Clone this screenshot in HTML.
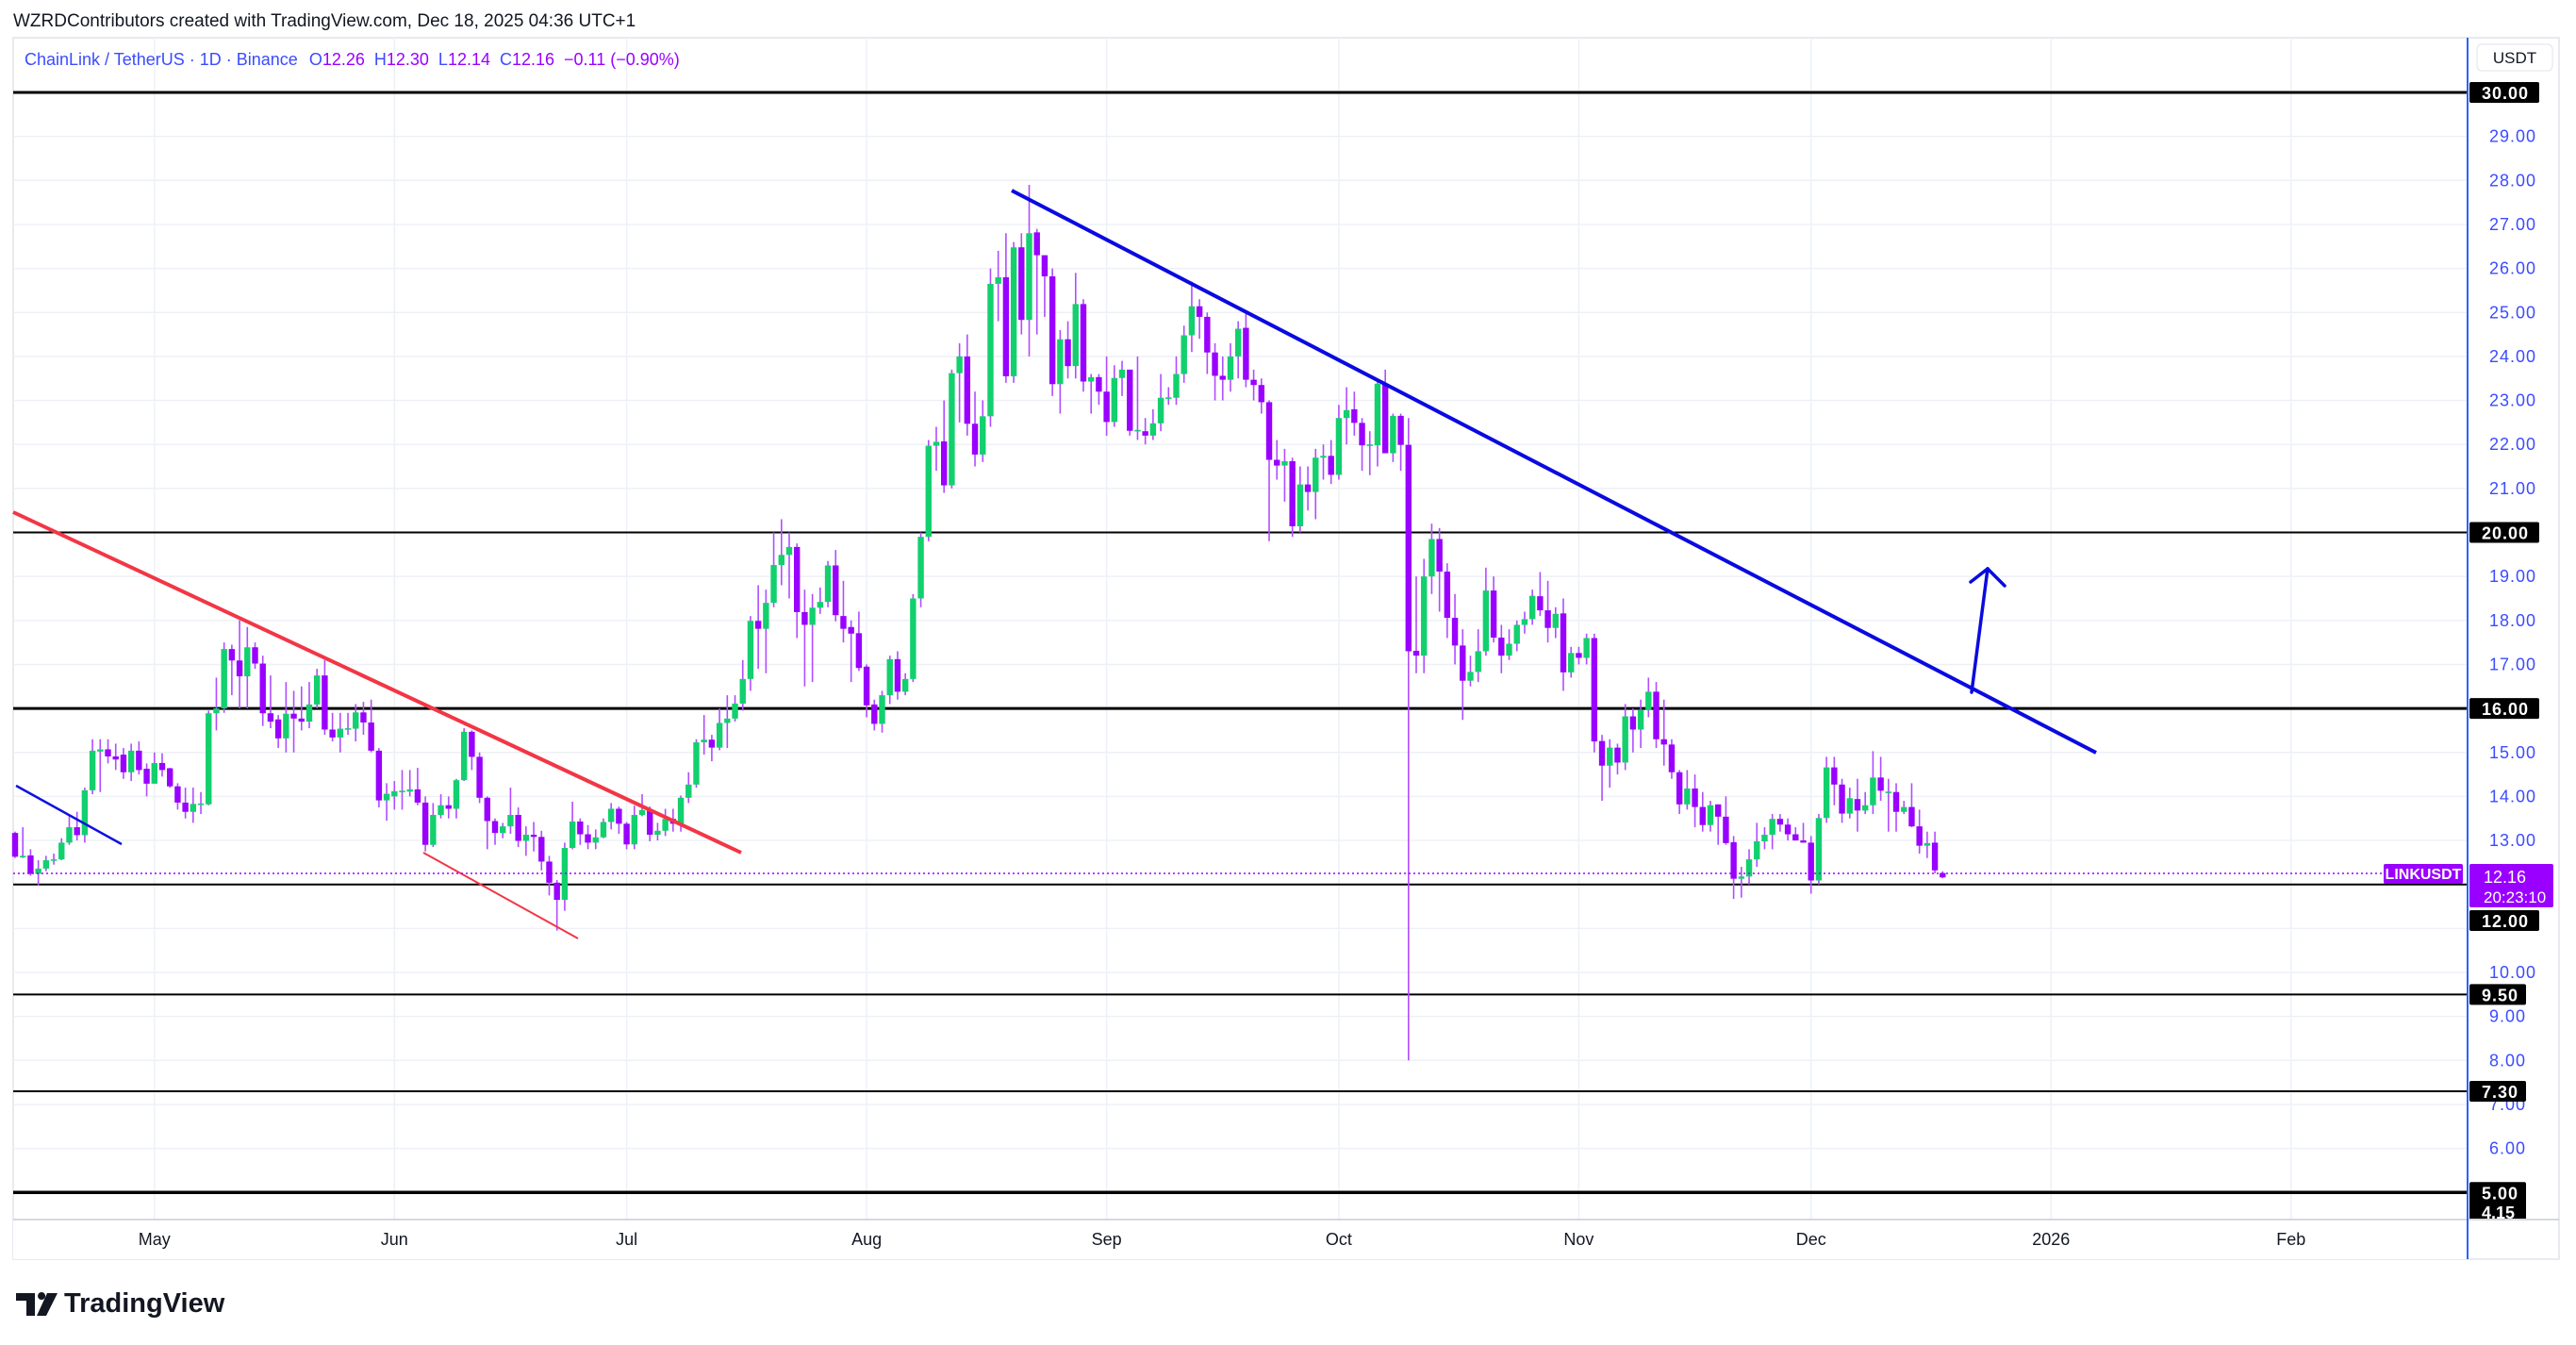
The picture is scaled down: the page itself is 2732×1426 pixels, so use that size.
<!DOCTYPE html>
<html><head><meta charset="utf-8">
<style>
html,body{margin:0;padding:0;background:#fff;}
body{width:2732px;height:1426px;overflow:hidden;font-family:"Liberation Sans",sans-serif;}
svg{display:block;}
</style></head>
<body>
<svg id="chart" width="2732" height="1426" viewBox="0 0 2732 1426" xmlns="http://www.w3.org/2000/svg">
  <text x="14" y="28" font-family="Liberation Sans, sans-serif" font-size="19" fill="#131722">WZRDContributors created with TradingView.com, Dec 18, 2025 04:36 UTC+1</text>
  <rect x="14" y="40" width="2700" height="1295" fill="#fff" stroke="#e0e3eb" stroke-width="1.5"/>
  <g id="grid"></g>
  <g id="levels"></g>
  <g id="candles"></g>
  <g id="drawings">
    <line x1="14" y1="543" x2="786" y2="904" stroke="#f23645" stroke-width="4"/>
    <line x1="449" y1="904" x2="613" y2="995" stroke="#f23645" stroke-width="2"/>
    <line x1="17" y1="833" x2="129" y2="895" stroke="#1010e0" stroke-width="2.5"/>
    <line x1="1073" y1="202" x2="2223" y2="798" stroke="#0a0ae0" stroke-width="4"/>
    <g stroke="#0a0ae0" stroke-width="3.5" fill="none" stroke-linecap="round">
      <line x1="2091" y1="734" x2="2108" y2="603"/>
      <line x1="2090" y1="617" x2="2108" y2="603"/>
      <line x1="2126" y1="621" x2="2108" y2="603"/>
    </g>
  </g>
  <line x1="14" y1="926" x2="2528" y2="926" stroke="#9900ff" stroke-width="1.5" stroke-dasharray="2,3"/>
  <rect x="14" y="1293" width="2603" height="42" fill="#fff"/>
  <line x1="14" y1="1293" x2="2714" y2="1293" stroke="#c8ccd4" stroke-width="1.5"/>
  <line x1="2617" y1="40" x2="2617" y2="1335" stroke="#2962ff" stroke-width="2"/>
  <rect x="2618" y="41" width="95" height="1251" fill="#fff"/>
  <g id="axis"></g>
  <g id="taxis"></g>
  <rect x="2627" y="47" width="80" height="28" rx="5" fill="#fff" stroke="#e0e3eb"/>
  <text x="2667" y="67" text-anchor="middle" font-size="17" fill="#131722">USDT</text>
  <rect x="2528" y="916" width="84" height="21" rx="2" fill="#9900ff"/>
  <text x="2570" y="932" text-anchor="middle" font-size="16" font-weight="bold" fill="#fff">LINKUSDT</text>
  <rect x="2619" y="916" width="89" height="46" rx="2" fill="#9900ff"/>
  <text x="2634" y="936" font-size="18" fill="#fff">12.16</text>
  <text x="2634" y="957" font-size="17" fill="#fff">20:23:10</text>
  <text x="26" y="69" font-size="18" fill="#3c4cff">ChainLink / TetherUS · 1D · Binance<tspan dx="12" fill="#3c4cff">O</tspan><tspan fill="#9900ff">12.26</tspan><tspan dx="10" fill="#3c4cff">H</tspan><tspan fill="#9900ff">12.30</tspan><tspan dx="10" fill="#3c4cff">L</tspan><tspan fill="#9900ff">12.14</tspan><tspan dx="10" fill="#3c4cff">C</tspan><tspan fill="#9900ff">12.16</tspan><tspan dx="10" fill="#9900ff">−0.11 (−0.90%)</tspan></text>
  <g>
    <path d="M17 1371 h20 v24 h-9 v-16 h-11 z M44 1378 a4 4 0 1 1 0.1 0 z M50 1371 h11 l-12 24 h-10 z" fill="#131722"/>
    <text x="68" y="1391" font-size="29" font-weight="bold" fill="#131722">TradingView</text>
  </g>
</svg>
<script>
const opens=[13.17,12.63,12.66,12.24,12.36,12.55,12.57,12.95,13.30,13.12,14.14,15.02,15.07,14.91,14.95,14.55,15.04,14.63,14.29,14.76,14.64,14.23,13.86,13.65,13.82,13.82,15.89,16.0,17.35,17.09,16.73,17.39,17.02,15.89,15.75,15.32,15.88,15.77,15.70,16.09,16.75,15.52,15.34,15.54,15.54,15.91,15.68,15.04,13.91,14.00,14.12,14.11,14.16,13.86,12.90,13.58,13.80,13.72,14.37,15.47,14.90,13.97,13.44,13.17,13.32,13.58,12.99,13.13,13.08,12.52,12.04,11.65,12.83,13.43,13.14,12.95,13.07,13.42,13.72,13.38,12.91,13.58,13.69,13.13,13.22,13.49,13.38,13.97,14.27,15.23,15.29,15.11,15.67,15.77,16.11,16.67,17.99,17.81,18.40,19.26,19.49,19.67,18.19,17.90,18.29,18.42,19.25,18.10,17.85,17.71,16.95,16.09,15.65,16.30,17.12,16.38,16.67,18.50,19.90,21.97,22.07,21.07,23.62,24.00,22.47,21.77,22.64,25.65,25.80,23.55,26.48,24.83,26.82,26.30,25.82,23.37,24.39,23.78,25.19,23.43,23.53,23.20,22.51,23.51,23.70,22.31,22.30,22.20,22.48,23.06,23.06,23.60,24.48,25.14,24.90,24.09,23.56,23.47,24.00,24.65,23.47,23.35,22.96,21.65,21.52,21.62,20.14,21.09,20.92,21.70,21.74,21.31,22.60,22.80,22.49,21.98,21.98,23.38,21.80,22.65,21.99,17.31,17.20,19.00,19.85,19.11,18.06,17.43,16.63,16.83,17.30,18.68,17.61,17.20,17.47,17.90,18.03,18.55,18.23,17.83,18.16,16.82,17.26,17.15,17.60,15.26,14.70,15.11,14.77,15.82,15.52,15.96,16.38,15.30,15.18,14.55,13.82,14.18,13.76,13.35,13.82,13.54,12.96,12.13,12.18,12.57,12.98,13.13,13.49,13.36,13.14,13.00,12.95,12.09,13.51,14.66,14.27,13.61,13.94,13.68,13.80,14.43,14.10,14.10,13.65,13.76,13.32,12.88,12.95,12.26];
const highs=[13.2,13.3,12.8,12.55,12.65,12.7,13.05,13.6,13.65,14.2,15.3,15.3,15.3,15.2,15.1,15.2,15.25,14.75,15.0,14.98,14.65,14.3,14.2,14.2,14.1,15.95,16.7,17.5,17.45,18.0,17.85,17.5,17.2,16.75,15.85,16.6,16.4,16.5,16.6,16.9,17.1,15.9,15.9,15.9,16.1,16.15,16.2,15.1,14.3,14.35,14.6,14.6,14.65,14.0,13.85,14.05,14.0,14.4,15.55,15.5,15.0,14.0,13.5,13.4,14.2,13.75,13.32,13.42,13.22,12.65,12.1,12.95,13.88,13.5,13.35,13.25,13.5,13.85,13.77,13.42,13.79,14.05,13.77,13.4,13.72,13.72,14.02,14.55,15.3,15.85,15.4,16.0,16.3,16.3,17.1,18.1,18.8,18.7,20.0,20.3,20.0,19.75,18.7,18.6,18.75,19.35,19.6,18.9,18.0,18.2,17.0,16.2,16.4,17.2,17.3,16.8,18.6,20.0,22.1,22.4,23.0,23.7,24.3,24.5,23.2,23.0,26.0,26.4,26.8,26.6,26.8,27.9,26.9,26.3,26.0,24.6,24.8,25.9,25.3,23.6,23.6,24.0,23.8,23.9,23.7,24.0,22.6,22.8,23.6,23.3,24.0,24.7,25.7,25.3,25.0,24.3,24.0,24.3,24.8,25.0,23.7,23.5,23.0,22.1,21.9,21.7,21.5,21.5,21.9,22.0,22.1,22.9,23.3,23.2,22.6,22.3,23.5,23.7,22.7,22.7,22.6,19.0,19.4,20.2,20.1,19.3,18.6,17.8,17.2,17.8,19.2,19.0,17.9,17.8,18.0,18.2,18.7,19.1,18.9,18.3,18.5,17.4,17.4,17.7,17.7,15.4,15.3,15.2,16.1,16.0,16.2,16.7,16.6,16.2,15.3,14.6,14.6,14.5,14.1,13.9,13.8,14.0,13.1,12.4,12.8,13.4,13.3,13.6,13.6,13.5,13.3,13.4,13.1,13.6,14.9,14.9,14.4,14.2,14.4,14.1,15.03,14.9,14.4,14.3,13.9,14.3,13.7,13.2,13.2,12.30];
const lows=[12.6,12.6,12.2,11.98,12.3,12.45,12.55,12.9,13.0,12.95,14.05,14.1,14.75,14.6,14.4,14.35,14.5,14.0,14.29,14.45,14.2,13.7,13.5,13.4,13.6,13.8,15.5,15.9,16.3,16.0,16.0,16.9,15.6,15.55,15.1,15.0,15.0,15.5,15.55,16.0,15.4,15.25,15.0,15.4,15.25,15.4,15.0,13.75,13.45,13.7,13.7,14.0,13.8,12.75,12.85,13.50,13.5,13.5,14.35,14.6,13.85,12.8,12.9,13.05,13.15,12.85,12.65,12.75,12.32,11.75,10.95,11.4,12.8,12.9,12.8,12.8,13.05,13.25,13.15,12.8,12.8,13.55,12.98,13.0,13.1,13.2,13.2,13.85,14.2,14.95,14.8,15.05,15.1,15.7,15.95,16.4,16.9,16.8,18.3,18.8,18.5,17.6,16.5,16.6,18.15,18.3,17.98,17.5,16.6,16.85,15.8,15.5,15.45,16.1,16.2,16.3,16.6,18.3,19.8,21.4,20.9,21.0,22.5,22.2,21.5,21.6,22.4,24.8,23.4,23.4,24.5,24.0,24.5,24.9,23.1,22.7,23.5,23.5,23.2,22.7,22.9,22.2,22.4,23.1,22.2,22.1,22.0,22.1,22.3,22.9,22.9,23.4,24.1,24.4,23.6,23.0,23.0,23.2,23.5,23.3,23.0,22.7,19.8,21.2,20.7,19.9,20.0,20.5,20.3,21.2,21.1,21.2,22.0,22.2,21.4,21.3,21.5,21.8,21.6,21.4,8.0,16.8,16.8,18.6,18.2,17.6,17.0,15.74,16.5,16.6,17.2,17.5,16.8,17.1,17.3,17.7,17.9,18.1,17.5,17.6,16.4,16.7,17.0,17.0,15.0,13.9,14.2,14.5,14.6,15.0,15.1,15.8,15.1,14.7,14.4,13.6,13.7,13.3,13.2,13.2,12.9,12.9,11.67,11.7,12.0,12.4,12.8,12.8,13.2,13.0,13.0,12.95,11.79,12.0,13.4,13.8,13.4,13.5,13.2,13.6,13.6,13.9,13.2,13.2,13.6,13.3,12.7,12.6,12.25,12.14];
const closes=[12.63,12.65,12.24,12.36,12.55,12.57,12.95,13.30,13.12,14.14,15.04,15.07,14.91,14.84,14.55,15.04,14.60,14.29,14.76,14.60,14.23,13.86,13.65,13.83,13.84,15.89,16.0,17.35,17.09,16.73,17.39,17.02,15.89,15.70,15.32,15.88,15.77,15.70,16.09,16.75,15.52,15.34,15.54,15.55,15.91,15.68,15.04,13.91,14.06,14.12,14.13,14.16,13.86,12.90,13.58,13.80,13.72,14.37,15.47,14.90,13.97,13.44,13.17,13.32,13.58,12.99,13.13,13.08,12.52,12.04,11.65,12.83,13.43,13.14,12.95,13.07,13.42,13.72,13.38,12.91,13.58,13.69,13.13,13.22,13.49,13.38,13.97,14.27,15.23,15.29,15.11,15.67,15.77,16.11,16.67,17.99,17.81,18.40,19.26,19.49,19.67,18.19,17.90,18.29,18.42,19.25,18.12,17.81,17.70,16.92,16.07,15.65,16.30,17.12,16.38,16.67,18.50,19.90,21.97,22.06,21.07,23.62,24.00,22.47,21.77,22.64,25.65,25.80,23.55,26.48,24.83,26.80,26.30,25.82,23.37,24.39,23.78,25.19,23.43,23.53,23.20,22.51,23.51,23.70,22.31,22.33,22.20,22.48,23.06,23.07,23.60,24.48,25.14,24.90,24.09,23.56,23.47,24.00,24.63,23.47,23.35,22.96,21.65,21.52,21.62,20.14,21.09,20.92,21.70,21.74,21.31,22.60,22.78,22.49,21.98,22.00,23.38,21.80,22.65,21.99,17.30,17.20,19.00,19.85,19.11,18.06,17.43,16.63,16.83,17.30,18.68,17.61,17.20,17.47,17.90,18.03,18.56,18.23,17.83,18.15,16.82,17.26,17.15,17.60,15.25,14.70,15.11,14.77,15.82,15.52,15.96,16.38,15.30,15.18,14.55,13.82,14.18,13.76,13.35,13.80,13.54,12.94,12.13,12.18,12.57,12.98,13.13,13.49,13.36,13.14,13.00,12.95,12.09,13.51,14.66,14.27,13.61,13.96,13.68,13.80,14.43,14.13,14.11,13.65,13.76,13.32,12.88,12.94,12.32,12.16];
const priceTicks=[29,28,27,26,25,24,23,22,21,19,18,17,15,14,13,10,9,8,7,6];
const levelPrices=[30,20,16,12,9.5,7.3,5];
const levelWidths=[3,2,3,2,2,2,3.5];
const levelLabels=["30.00","20.00","16.00","12.00","9.50","7.30","5.00"];
const monthLabels=["May","Jun","Jul","Aug","Sep","Oct","Nov","Dec","2026","Feb"];
const monthIdx=[18,49,79,110,141,171,202,232,263,294];

const NS="http://www.w3.org/2000/svg";
function xS(i){return 16+8.21*i;}
function yS(p){return 98+(30-p)*46.65;}
function mk(tag,attrs,parent){const e=document.createElementNS(NS,tag);for(const k in attrs)e.setAttribute(k,attrs[k]);parent.appendChild(e);return e;}
const grid=document.getElementById('grid');
for(let p=4;p<=30;p++){
  const l=mk('line',{x1:14,x2:2617,y1:yS(p),y2:yS(p),stroke:'#edf1f6','stroke-width':1.5},grid);
  
  
}
monthIdx.forEach(function(m){
  const l=mk('line',{x1:xS(m),x2:xS(m),y1:40,y2:1293,stroke:'#edf1f6','stroke-width':1.5},grid);
  
  
});
const lv=document.getElementById('levels');
levelPrices.forEach(function(p,k){
  const l=mk('line',{x1:14,x2:2617,y1:yS(p),y2:yS(p),stroke:'#000','stroke-width':levelWidths[k]},lv);
  
  
});
const cg=document.getElementById('candles');
for(let i=0;i<closes.length;i++){
  const x=xS(i),o=opens[i],c=closes[i];
  const up=c>=o;
  const w=mk('line',{x1:x,x2:x,y1:yS(highs[i]),y2:yS(lows[i]),stroke:'#b04dff','stroke-width':1.6},cg);
  
  
  const top=yS(Math.max(o,c)),bot=yS(Math.min(o,c));
  const b=mk('rect',{x:x-3.2,y:top,width:6.4,height:Math.max(bot-top,1.6),fill:up?'#12d06e':'#9900ff'},cg);
  
  
}
const ax=document.getElementById('axis');
priceTicks.forEach(function(p){
  const t=mk('text',{x:2640,y:yS(p)+6,'font-size':18,'letter-spacing':1,fill:'#3c4cff','font-family':'Liberation Sans, sans-serif'},ax);
  t.textContent=p.toFixed(2);
  
  
});
levelPrices.forEach(function(p,k){
  let y=yS(p);
  if(p===12)y=976;
  const wdt=levelLabels[k].length>4?74:60;
  const r=mk('rect',{x:2619,y:y-11,width:wdt,height:22,rx:2,fill:'#000'},ax);
  
  
  const t=mk('text',{x:2632,y:y+7,'font-size':18,'font-weight':'bold','letter-spacing':1,fill:'#fff'},ax);
  t.textContent=levelLabels[k];
  
  
});
const r4=mk('rect',{x:2619,y:1274,width:60,height:18,fill:'#000'},ax);


const t4=mk('text',{x:2632,y:1292,'font-size':18,'font-weight':'bold',fill:'#fff'},ax);
t4.textContent='4.15';


const ta=document.getElementById('taxis');
monthLabels.forEach(function(m,k){
  const t=mk('text',{x:xS(monthIdx[k]),y:1320,'text-anchor':'middle','font-size':18,fill:'#131722'},ta);
  t.textContent=m;
  
  
});
</script>
</body></html>
